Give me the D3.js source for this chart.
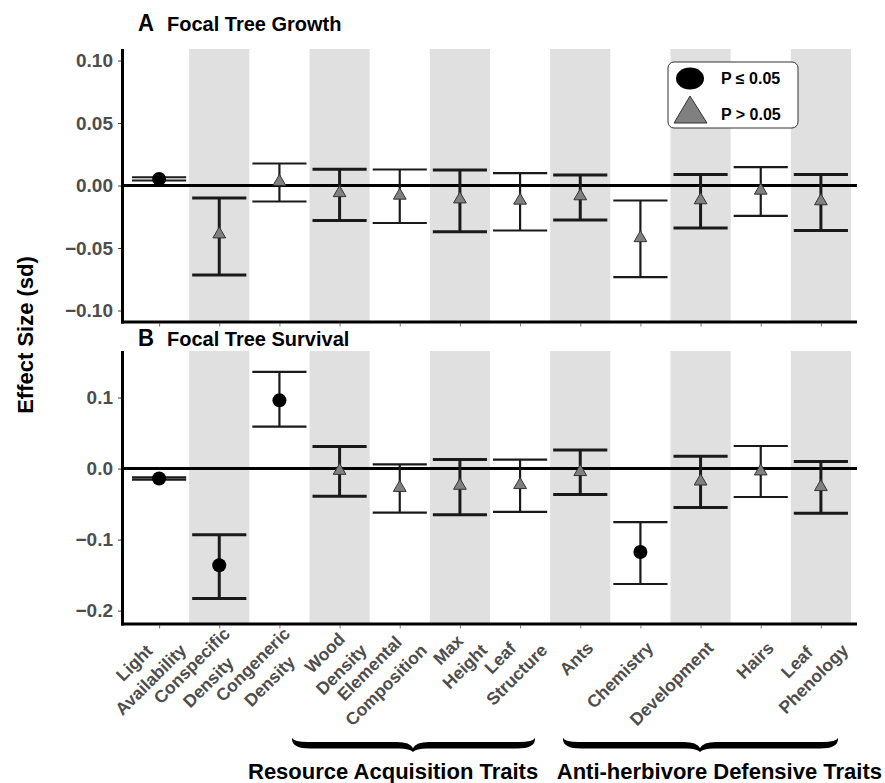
<!DOCTYPE html>
<html>
<head>
<meta charset="utf-8">
<script src="https://cdn.jsdelivr.net/npm/d3@7"></script>
<style>
  body { margin: 0; background: #fff; }
  svg { display: block; font-family: "Liberation Sans", Arial, Helvetica, sans-serif; }
</style>
</head>
<body>
<script>
// categories (x axis), "\n" splits the two-line labels
var categories = ["Light\nAvailability", "Conspecific\nDensity", "Congeneric\nDensity", "Wood\nDensity",
                  "Elemental\nComposition", "Max\nHeight", "Leaf\nStructure", "Ants", "Chemistry",
                  "Development", "Hairs", "Leaf\nPhenology"];

// A: focal tree growth
var growth_est = [0.0053, -0.039, 0.003, -0.006, -0.008, -0.011, -0.012, -0.0085, -0.042, -0.0117, -0.004, -0.0125];
var growth_lo  = [0.0040, -0.0715, -0.0128, -0.028, -0.030, -0.037, -0.036, -0.0275, -0.0733, -0.034, -0.0243, -0.036];
var growth_hi  = [0.0066, -0.010, 0.0176, 0.013, 0.0128, 0.0125, 0.0099, 0.0085, -0.012, 0.0088, 0.0147, 0.0088];
var growth_sig = [1, 0, 0, 0, 0, 0, 0, 0, 0, 0, 0, 0];

// B: focal tree survival
var survival_est = [-0.014, -0.136, 0.096, -0.003, -0.027, -0.024, -0.023, -0.0047, -0.1175, -0.018, -0.0038, -0.0258];
var survival_lo  = [-0.0155, -0.183, 0.059, -0.039, -0.062, -0.065, -0.061, -0.0365, -0.1625, -0.0548, -0.040, -0.063];
var survival_hi  = [-0.0125, -0.093, 0.136, 0.031, 0.006, 0.0126, 0.0126, 0.026, -0.0754, 0.0173, 0.0318, 0.0098];
var survival_sig = [1, 1, 1, 0, 0, 0, 0, 0, 1, 0, 0, 0];

var growth_ticks = [-0.10, -0.05, 0.00, 0.05, 0.10];
var survival_ticks = [-0.2, -0.1, 0.0, 0.1];

var legend_labels = ["P \u2264 0.05", "P > 0.05"];
var group_labels = ["Resource Acquisition Traits", "Anti-herbivore Defensive Traits"];

var effect_chart = (function(){
  var svg,
      w = 885,
      h = 783,
      x_left = 123,
      x_right = 857,
      x;

  function effect_chart(){
    init();
    draw_panel({ top: 49, bottom: 322, title_y: 31, domain: [-0.1092, 0.1092], ticks: growth_ticks, fmt: d3.format(".2f"),
                 letter: "A", title: "Focal Tree Growth",
                 est: growth_est, lo: growth_lo, hi: growth_hi, sig: growth_sig });
    draw_panel({ top: 351, bottom: 624, title_y: 346, domain: [-0.2188, 0.1655], ticks: survival_ticks, fmt: d3.format(".1f"),
                 letter: "B", title: "Focal Tree Survival",
                 est: survival_est, lo: survival_lo, hi: survival_hi, sig: survival_sig });
    draw_x_labels(624);
    draw_legend();
    draw_groups();
  }

  function init(){
    svg = d3.select("body").append("svg")
        .attr("width", w)
        .attr("height", h);

    x = d3.scalePoint()
        .domain(categories)
        .range([x_left, x_right])
        .padding(0.6);

    svg.append("text")
        .text("Effect Size (sd)")
        .attr("transform", "translate(33,335) rotate(-90)")
        .attr("text-anchor", "middle")
        .attr("font-size", "22px")
        .attr("font-weight", "bold")
        .attr("fill", "#000");
  }

  function draw_panel(p){
    var g = svg.append("g"),
        step = x.step(),
        y = d3.scaleLinear().domain(p.domain).range([p.bottom, p.top]);

    // shaded bands on every other category
    g.selectAll("rect.band")
        .data(categories.filter(function(d, i){ return i % 2 === 1; }))
        .enter()
        .append("rect")
        .attr("class", "band")
        .attr("x", function(d){ return x(d) - step / 2; })
        .attr("y", p.top)
        .attr("width", step)
        .attr("height", p.bottom - p.top)
        .attr("fill", "#e0e0e0");

    g.append("line")
        .attr("x1", x_left).attr("x2", x_right)
        .attr("y1", y(0)).attr("y2", y(0))
        .attr("stroke", "#000")
        .attr("stroke-width", 3);

    var rows = categories.map(function(c, i){
      return { c: c, i: i, est: p.est[i], lo: p.lo[i], hi: p.hi[i], sig: p.sig[i] };
    });

    var bars = g.selectAll("g.bar")
        .data(rows)
        .enter()
        .append("g")
        .attr("class", "bar")
        .attr("stroke", "#1a1a1a")
        .attr("stroke-width", function(d){ return d.i % 2 ? 3 : 2.2; });

    bars.append("line")
        .attr("x1", function(d){ return x(d.c); })
        .attr("x2", function(d){ return x(d.c); })
        .attr("y1", function(d){ return y(d.lo); })
        .attr("y2", function(d){ return y(d.hi); });

    ["lo", "hi"].forEach(function(k){
      bars.append("line")
          .attr("x1", function(d){ return x(d.c) - step * 0.45; })
          .attr("x2", function(d){ return x(d.c) + step * 0.45; })
          .attr("y1", function(d){ return y(d[k]); })
          .attr("y2", function(d){ return y(d[k]); });
    });

    g.selectAll("circle.sig")
        .data(rows.filter(function(d){ return d.sig; }))
        .enter()
        .append("circle")
        .attr("cx", function(d){ return x(d.c); })
        .attr("cy", function(d){ return y(d.est); })
        .attr("r", 7)
        .attr("fill", "#000");

    g.selectAll("path.ns")
        .data(rows.filter(function(d){ return !d.sig; }))
        .enter()
        .append("path")
        .attr("d", d3.symbol(d3.symbolTriangle, 70))
        .attr("transform", function(d){ return "translate(" + x(d.c) + "," + y(d.est) + ")"; })
        .attr("fill", "#808080")
        .attr("stroke", "#333")
        .attr("stroke-width", 1);

    // axes
    var ya = g.append("g")
        .attr("transform", "translate(121,0)")
        .call(d3.axisLeft(y).tickValues(p.ticks).tickSize(3).tickPadding(5).tickFormat(p.fmt));
    ya.select(".domain").remove();
    ya.selectAll(".tick line").attr("stroke", "#444");
    ya.selectAll(".tick text")
        .attr("fill", "#4d4d4d")
        .attr("font-size", "19px")
        .attr("font-weight", "bold")
        .attr("font-family", "Liberation Sans, Arial, sans-serif");

    var xa = g.append("g")
        .attr("transform", "translate(0," + (p.bottom + 1.5) + ")")
        .call(d3.axisBottom(x).tickSize(3).tickFormat(""));
    xa.select(".domain").remove();
    xa.selectAll(".tick line").attr("stroke", "#777");

    g.append("line")
        .attr("x1", 122.5).attr("x2", 122.5)
        .attr("y1", p.top).attr("y2", p.bottom + 1.5)
        .attr("stroke", "#000").attr("stroke-width", 3);
    g.append("line")
        .attr("x1", 121).attr("x2", x_right)
        .attr("y1", p.bottom).attr("y2", p.bottom)
        .attr("stroke", "#000").attr("stroke-width", 3);

    // panel title
    g.append("text")
        .text(p.letter)
        .attr("x", 138)
        .attr("y", p.title_y)
        .attr("font-size", "24px")
        .attr("font-weight", "bold")
        .attr("textLength", 16)
        .attr("lengthAdjust", "spacingAndGlyphs");
    g.append("text")
        .text(p.title)
        .attr("x", 167)
        .attr("y", p.title_y)
        .attr("font-size", "20px")
        .attr("font-weight", "bold");
  }

  function draw_x_labels(base){
    var lh = 23.5;
    var labels = svg.selectAll("g.xlab")
        .data(categories)
        .enter()
        .append("g")
        .attr("class", "xlab")
        .attr("font-size", "17.5px")
        .attr("font-weight", "bold")
        .attr("fill", "#4d4d4d");

    labels.each(function(d){
      var lines = d.split("\n"),
          n = lines.length,
          el = d3.select(this),
          shift = n > 1 ? 6 : 0;

      el.attr("transform", "translate(" + (x(d) + 10 + shift) + "," + (base + 21 - shift) + ") rotate(-45)");

      var texts = el.selectAll("text")
          .data(lines)
          .enter()
          .append("text")
          .text(function(t){ return t; })
          .attr("y", function(t, i){ return (i - (n - 1) / 2) * lh; })
          .attr("dy", "0.33em");

      var maxw = 0;
      texts.each(function(){ maxw = Math.max(maxw, this.getComputedTextLength()); });
      texts.attr("x", -maxw / 2).attr("text-anchor", "middle");
    });
  }

  function draw_legend(){
    var g = svg.append("g").attr("transform", "translate(668,62)");
    g.append("rect")
        .attr("width", 130)
        .attr("height", 66)
        .attr("rx", 6)
        .attr("fill", "#fff")
        .attr("stroke", "#333")
        .attr("stroke-width", 1);
    g.append("ellipse")
        .attr("cx", 22).attr("cy", 16.5)
        .attr("rx", 14).attr("ry", 11)
        .attr("fill", "#000");
    g.append("path")
        .attr("d", "M22,34 L39,61 L6,61 Z")
        .attr("fill", "#808080")
        .attr("stroke", "#333")
        .attr("stroke-width", 1);
    g.selectAll("text")
        .data(legend_labels)
        .enter()
        .append("text")
        .text(function(d){ return d; })
        .attr("x", 53)
        .attr("y", function(d, i){ return 21.5 + i * 36.5; })
        .attr("font-size", "16px")
        .attr("font-weight", "bold");
  }

  function brace_path(x0, x1, xm, yTop, yArm, yTip){
    var a = yArm - 3, b = yArm + 3.5;
    return "M" + x0 + "," + yTop +
      " Q" + (x0 + 2) + "," + a + " " + (x0 + 16) + "," + a +
      " L" + (xm - 16) + "," + a +
      " Q" + (xm - 3) + "," + a + " " + xm + "," + (yTip - 4) +
      " Q" + (xm + 3) + "," + a + " " + (xm + 16) + "," + a +
      " L" + (x1 - 16) + "," + a +
      " Q" + (x1 - 2) + "," + a + " " + x1 + "," + yTop +
      " Q" + (x1 + 1) + "," + b + " " + (x1 - 18) + "," + b +
      " L" + (xm + 14) + "," + b +
      " Q" + (xm + 3) + "," + b + " " + xm + "," + yTip +
      " Q" + (xm - 3) + "," + b + " " + (xm - 14) + "," + b +
      " L" + (x0 + 18) + "," + b +
      " Q" + (x0 - 1) + "," + b + " " + x0 + "," + yTop + " Z";
  }

  function draw_groups(){
    svg.append("path").attr("d", brace_path(292, 535, 413, 738, 745, 752)).attr("fill", "#000");
    svg.append("path").attr("d", brace_path(563, 838, 700, 738, 745, 752)).attr("fill", "#000");

    svg.append("text")
        .text(group_labels[0])
        .attr("x", 248)
        .attr("y", 779)
        .attr("font-size", "22px")
        .attr("font-weight", "bold");
    svg.append("text")
        .text(group_labels[1])
        .attr("x", 882)
        .attr("y", 779)
        .attr("text-anchor", "end")
        .attr("font-size", "22px")
        .attr("font-weight", "bold");
  }

  return effect_chart;
})();

effect_chart();
</script>
</body>
</html>
